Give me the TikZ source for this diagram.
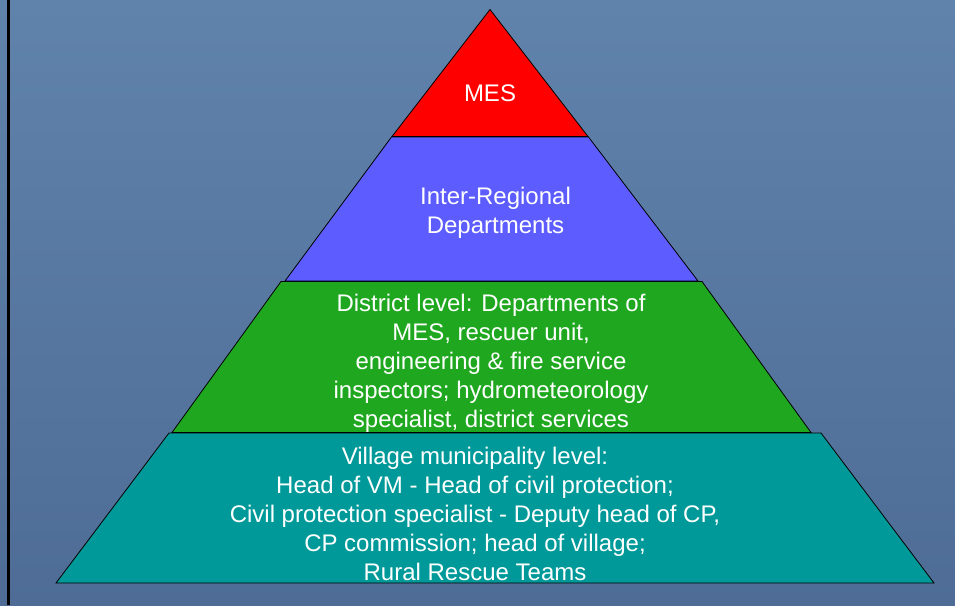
\documentclass[tikz,border=0pt]{standalone}
\usepackage{fontspec}
\setmainfont{Liberation Sans}
\definecolor{bgtop}{RGB}{96,131,171}
\definecolor{bgbot}{RGB}{78,108,150}
\definecolor{mesred}{RGB}{255,0,0}
\definecolor{regblue}{RGB}{92,92,255}
\definecolor{distgreen}{RGB}{31,168,31}
\definecolor{villteal}{RGB}{0,153,153}
\begin{document}
\begin{tikzpicture}[x=1pt,y=-1pt,
  layer/.style={draw=black, line width=0.8pt, line join=miter},
  lbl/.style={text=white, font=\fontsize{24}{29}\selectfont, align=center, inner sep=0pt}]
\shade[top color=bgtop, bottom color=bgbot] (0,0) rectangle (955,605);
\useasboundingbox (0,0) rectangle (955,605);
\fill[black] (7,0) rectangle (9.5,605);
% layers
\filldraw[layer, fill=villteal] (169,433) -- (821,433) -- (934,583) -- (56,583) -- cycle;
\filldraw[layer, fill=distgreen] (281,281.5) -- (702,281.5) -- (811,432.5) -- (172,432.5) -- cycle;
\filldraw[layer, fill=regblue] (391.5,137) -- (588.5,137) -- (698,281) -- (285,281) -- cycle;
\filldraw[layer, fill=mesred] (490,9.5) -- (588,136.5) -- (392,136.5) -- cycle;
% labels
\node[lbl] (mes) at (490,93.4) {MES};
\node[lbl] (reg) at (495.5,212.3) {Inter-Regional\\Departments};
\node[lbl] (dist) at (491,363.5) {District level: Departments of\\MES, rescuer unit,\\engineering \& fire service\\inspectors; hydrometeorology\\specialist, district services};
\node[lbl] (vill) at (475,514.3) {Village municipality level:\\Head of VM - Head of civil protection;\\Civil protection specialist - Deputy head of CP,\\CP commission; head of village;\\Rural Rescue Teams};
\end{tikzpicture}
\end{document}
